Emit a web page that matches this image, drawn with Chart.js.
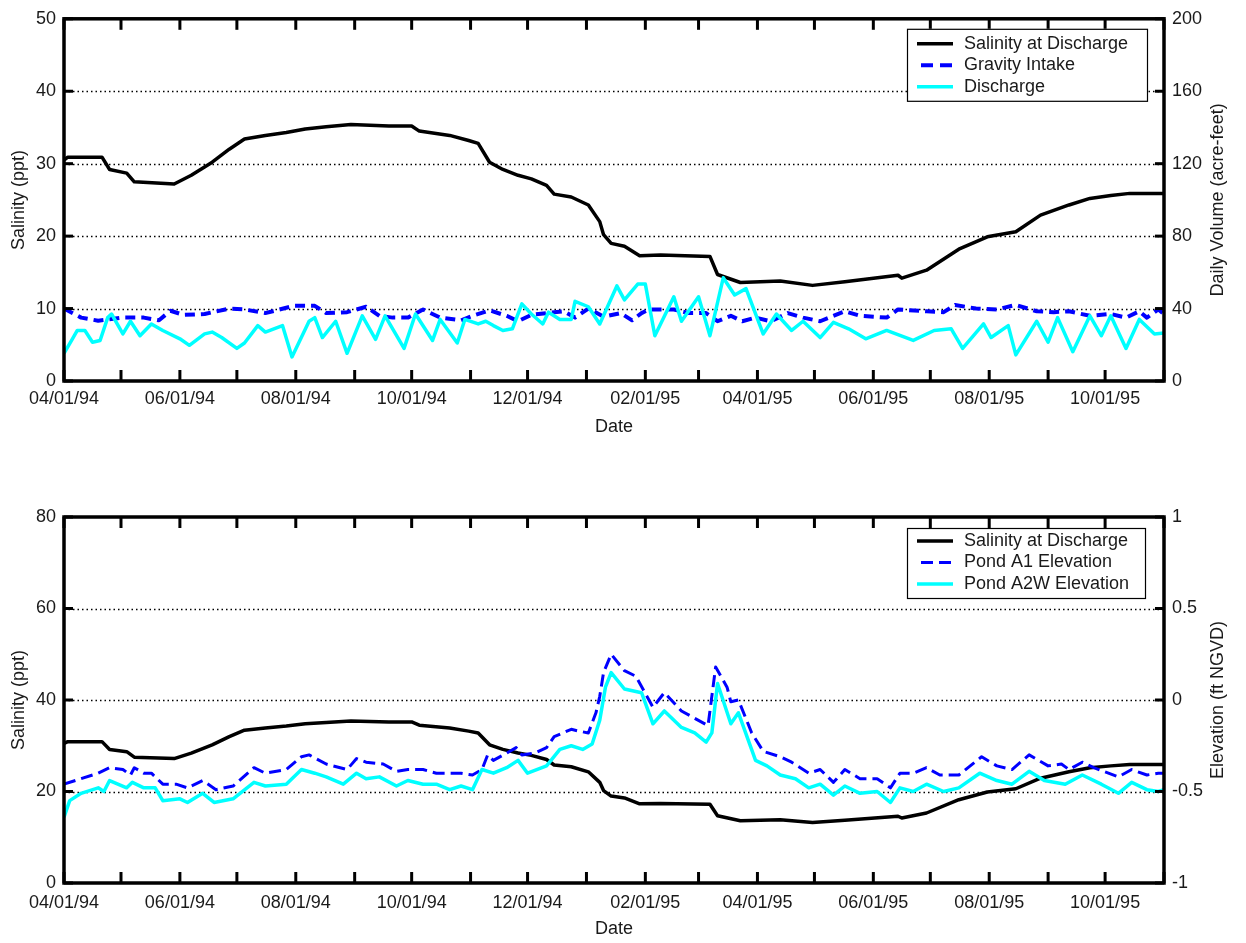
<!DOCTYPE html>
<html><head><meta charset="utf-8">
<script src="https://cdn.jsdelivr.net/npm/chart.js@4.4.1/dist/chart.umd.min.js"></script>
<style>
html,body{margin:0;padding:0;background:#fff;}
#wrap{position:relative;width:1246px;height:943px;background:#fff;}
canvas{position:absolute;left:0;}
#c1{top:0;} #c2{top:470px;}
</style></head><body>
<div id="wrap"><canvas id="c1" width="1246" height="470"></canvas><canvas id="c2" width="1246" height="473"></canvas></div>
<script>
// ---------- x axis (dates) ----------
const monthTicks = ['04/01/94','05/01/94','06/01/94','07/01/94','08/01/94','09/01/94','10/01/94','11/01/94','12/01/94','01/01/95','02/01/95','03/01/95','04/01/95','05/01/95','06/01/95','07/01/95','08/01/95','09/01/95','10/01/95','11/01/95'];
const xTickLabels = ['04/01/94','06/01/94','08/01/94','10/01/94','12/01/94','02/01/95','04/01/95','06/01/95','08/01/95','10/01/95'];
const xStart = '04/01/94', xEnd = '11/01/95';

// ---------- series (x = days after 04/01/94) ----------
const salinityDays = [0,2,20,24,33,37,58,67,78,87,95,106,117,127,138,151,171,183,187,203,213,218,224,231,239,246,254,258,267,276,282,284,288,295,303,314,340,344,356,377,394,411,439,441,454,471,486,501,514,529,540,551,561,579];
const salinityPpt = [30.5,30.9,30.9,29.2,28.7,27.5,27.2,28.4,30.2,32,33.4,33.9,34.3,34.8,35.1,35.4,35.2,35.2,34.5,33.9,33.2,32.8,30.2,29.2,28.4,27.9,27,25.8,25.4,24.3,22,20.2,19,18.6,17.3,17.4,17.2,14.7,13.6,13.8,13.2,13.7,14.6,14.2,15.3,18.2,19.9,20.6,22.9,24.3,25.2,25.6,25.9,25.9];

const intakeDays = [0,9,18,31,42,50,56,63,74,87,95,106,121,132,138,149,159,166,173,181,189,198,209,215,224,233,239,246,254,263,269,276,284,293,299,304,308,321,329,338,344,351,357,364,372,381,389,398,411,419,433,439,454,463,469,480,491,501,512,521,529,540,551,559,566,570,576,579];
const intakeAcreFt = [40,35,33.3,35,35,33.5,38.8,36.5,37,40,39.5,37.5,41.5,41.5,37.5,38,41,36,35,35,39.5,35,33.5,36,39,36,33,36.5,37.5,38.5,35,40,35.5,37.5,33.5,37.5,39.5,39.5,37.5,37.5,33,36,33,35,33,37.5,35,33,38.5,36,35,39.5,38.5,38,42,40,39.5,42,38.5,38,38.5,36,37,35,38.5,35,39.5,37];

const dischargeDays = [0,4,7,11,15,19,23,25,31,35,40,46,52,61,66,74,78,83,91,95,102,106,115,120,129,132,136,143,149,157,164,169,179,185,194,198,207,211,218,222,226,231,236,241,246,252,255,261,267,269,276,282,291,295,302,306,311,321,325,334,340,347,353,359,368,375,383,389,398,405,413,422,433,447,458,467,473,484,488,497,501,512,518,523,531,540,546,551,559,566,574,579];
const dischargeAcreFt = [15.3,22.4,27.9,27.9,21.4,22.4,35,37,26,33,25,31.5,27.9,23.3,19.7,26,27,24,18,21,30.6,27,30.6,13.3,33,35,24,33,15.3,36,23,36,18,37,22.4,34,21,34,31.5,33,30.6,27.9,28.8,42.6,37,31.5,38,34,34,44,41,31.5,52.5,44.8,53.5,53.5,25,46.5,33,46.5,25,57,47.5,51,26,37,27.9,33,24,32.4,28.8,23.3,27.9,22.4,27.9,28.8,18,31.5,24,30.6,14.4,33,21.4,35,16.2,36,25,36,18,34,26,26.5];

const pondA1Days = [0,9,18,24,31,35,37,42,46,52,59,65,73,80,89,100,106,117,125,129,138,149,154,159,168,175,181,189,196,203,209,215,220,223,226,233,238,241,248,254,258,267,271,276,280,282,284,288,295,301,310,316,325,332,339,343,349,351,355,362,368,377,383,392,398,405,411,419,428,435,440,447,454,461,471,483,491,499,508,518,525,529,536,542,555,562,570,576,579];
const pondA1Ft = [-0.46,-0.43,-0.40,-0.37,-0.38,-0.41,-0.37,-0.40,-0.40,-0.46,-0.46,-0.48,-0.44,-0.49,-0.47,-0.37,-0.40,-0.38,-0.31,-0.30,-0.35,-0.38,-0.32,-0.34,-0.35,-0.39,-0.38,-0.38,-0.40,-0.40,-0.40,-0.41,-0.38,-0.30,-0.33,-0.29,-0.26,-0.30,-0.29,-0.26,-0.20,-0.16,-0.17,-0.18,-0.07,0.02,0.15,0.25,0.16,0.13,-0.04,0.04,-0.06,-0.10,-0.14,0.18,0.07,-0.01,0.00,-0.18,-0.28,-0.31,-0.34,-0.40,-0.38,-0.45,-0.38,-0.43,-0.43,-0.48,-0.40,-0.40,-0.37,-0.41,-0.41,-0.31,-0.36,-0.38,-0.30,-0.36,-0.35,-0.38,-0.34,-0.37,-0.42,-0.38,-0.41,-0.40,-0.40];

const pondA2WDays = [0,3,9,18,21,24,33,36,42,48,52,61,65,73,79,89,100,106,117,125,132,138,147,154,159,166,175,181,189,196,203,209,215,220,226,233,239,244,254,261,267,273,278,282,285,288,295,304,310,316,325,332,338,341,344,351,355,364,370,377,385,392,398,405,411,419,428,435,440,447,454,463,471,482,491,499,508,516,527,536,546,555,562,570,576,579];
const pondA2WFt = [-0.64,-0.55,-0.51,-0.48,-0.50,-0.44,-0.48,-0.45,-0.48,-0.48,-0.55,-0.54,-0.56,-0.51,-0.56,-0.54,-0.45,-0.47,-0.46,-0.38,-0.40,-0.42,-0.46,-0.40,-0.43,-0.42,-0.47,-0.44,-0.46,-0.46,-0.49,-0.47,-0.49,-0.38,-0.40,-0.37,-0.33,-0.40,-0.36,-0.27,-0.25,-0.27,-0.24,-0.11,0.07,0.15,0.06,0.04,-0.13,-0.06,-0.15,-0.18,-0.23,-0.18,0.09,-0.13,-0.07,-0.33,-0.36,-0.41,-0.43,-0.48,-0.46,-0.52,-0.47,-0.51,-0.50,-0.56,-0.48,-0.50,-0.46,-0.50,-0.48,-0.40,-0.44,-0.46,-0.39,-0.44,-0.46,-0.41,-0.46,-0.51,-0.45,-0.49,-0.50,-0.49];

// ---------- helpers ----------
function dateMs(s){ const [m,d,y]=s.split('/').map(Number); return Date.UTC(1900+y, m-1, d); }
const T0 = dateMs(xStart);
function dayOf(s){ return Math.round((dateMs(s)-T0)/86400000); }
function pts(xs, ys){ return xs.map((x,i)=>({x:x, y:ys[i]})); }
const tickDayMap = {}; monthTicks.forEach(s=>{ tickDayMap[dayOf(s)] = s; });

const FAM = "'Liberation Sans', Arial, Helvetica, sans-serif";
const FONT = {family: FAM, size: 18};
const TXT = '#1a1a1a';

const decor = {
  id: 'decor',
  beforeDatasetsDraw(chart){
    const {ctx, chartArea: a, scales} = chart;
    const y = scales.y;
    ctx.save();
    ctx.strokeStyle = '#000'; ctx.lineWidth = 1.5; ctx.setLineDash([1.5, 3]);
    y.ticks.forEach(t => {
      if (t.value === y.min || t.value === y.max) return;
      const py = Math.round(y.getPixelForValue(t.value)) + 0.5;
      ctx.beginPath(); ctx.moveTo(a.left, py); ctx.lineTo(a.right, py); ctx.stroke();
    });
    ctx.restore();
  },
  afterDatasetsDraw(chart, args, opts){
    const {ctx, chartArea: a, scales} = chart;
    ctx.save();
    ctx.strokeStyle = '#000'; ctx.setLineDash([]);
    // inward tick marks
    ctx.lineWidth = 3;
    scales.x.ticks.forEach(t => {
      const px = scales.x.getPixelForValue(t.value);
      ctx.beginPath(); ctx.moveTo(px, a.top); ctx.lineTo(px, a.top + 11); ctx.stroke();
      ctx.beginPath(); ctx.moveTo(px, a.bottom); ctx.lineTo(px, a.bottom - 11); ctx.stroke();
    });
    scales.y.ticks.forEach(t => {
      const py = scales.y.getPixelForValue(t.value);
      ctx.beginPath(); ctx.moveTo(a.left, py); ctx.lineTo(a.left + 9, py); ctx.stroke();
    });
    scales.y2.ticks.forEach(t => {
      const py = scales.y2.getPixelForValue(t.value);
      ctx.beginPath(); ctx.moveTo(a.right, py); ctx.lineTo(a.right - 9, py); ctx.stroke();
    });
    // frame
    ctx.lineWidth = 3.5;
    ctx.strokeRect(a.left, a.top, a.right - a.left, a.bottom - a.top);
    // right axis title (reads bottom-to-top)
    ctx.save();
    ctx.translate(a.right + opts.rightTitleOffset, (a.top + a.bottom) / 2);
    ctx.rotate(-Math.PI / 2);
    ctx.fillStyle = TXT; ctx.font = '18px ' + FAM;
    ctx.textAlign = 'center'; ctx.textBaseline = 'middle';
    ctx.fillText(opts.rightTitle, 0, 0);
    ctx.restore();
    // legend box
    const L = opts.legend;
    const bx = a.right - L.right - L.width, by = a.top + L.top;
    ctx.fillStyle = '#fff';
    ctx.fillRect(bx, by, L.width, L.height);
    ctx.lineWidth = 1.2; ctx.strokeStyle = '#000';
    ctx.strokeRect(bx + 0.5, by + 0.5, L.width, L.height);
    ctx.font = '18px ' + FAM; ctx.textBaseline = 'middle'; ctx.textAlign = 'left';
    chart.data.datasets.forEach((ds, i) => {
      const ry = by + L.first + i * L.row;
      ctx.save();
      ctx.strokeStyle = ds.borderColor; ctx.lineWidth = ds.borderWidth;
      if (ds.borderDash && ds.borderDash.length) {
        ctx.setLineDash(L.dash);
        ctx.beginPath(); ctx.moveTo(bx + 14, ry); ctx.lineTo(bx + 46, ry); ctx.stroke();
      } else {
        ctx.beginPath(); ctx.moveTo(bx + 10, ry); ctx.lineTo(bx + 46, ry); ctx.stroke();
      }
      ctx.restore();
      ctx.fillStyle = TXT;
      ctx.fillText(ds.label, bx + 57, ry);
    });
    ctx.restore();
  }
};

function xScale(tickPad, height, titlePadBottom){
  return {
    type: 'linear', position: 'bottom', min: 0, max: dayOf(xEnd),
    afterBuildTicks: s => { s.ticks = monthTicks.map(d => ({value: dayOf(d)})); },
    ticks: { autoSkip: false, maxRotation: 0, minRotation: 0, padding: tickPad, font: FONT, color: TXT,
      callback: v => { const s = tickDayMap[v]; return (s && xTickLabels.includes(s)) ? s : ''; } },
    grid: { display: false, drawTicks: false }, border: { display: false },
    title: { display: true, text: 'Date', font: FONT, color: TXT, padding: {top: 0, bottom: titlePadBottom} },
    afterFit: s => { s.height = height; }
  };
}
function yScale(pos, min, max, step, title, width){
  const o = {
    type: 'linear', position: pos, min: min, max: max,
    ticks: { stepSize: step, padding: 8, font: FONT, color: TXT, callback: v => String(v) },
    grid: { display: false, drawTicks: false }, border: { display: false },
    afterFit: s => { s.width = width; }
  };
  if (title) o.title = { display: true, text: title, font: FONT, color: TXT, padding: {top: 8, bottom: 0} };
  return o;
}

const common = { responsive: false, animation: false, devicePixelRatio: 1,
  plugins: { legend: {display: false}, tooltip: {enabled: false} },
  elements: { point: { radius: 0 }, line: { tension: 0, borderCapStyle: 'butt', borderJoinStyle: 'round' } } };

new Chart(document.getElementById('c1'), {
  type: 'line',
  data: { datasets: [
    { label: 'Salinity at Discharge', data: pts(salinityDays, salinityPpt), yAxisID: 'y', borderColor: '#000000', borderWidth: 3.5, order: 3 },
    { label: 'Gravity Intake', data: pts(intakeDays, intakeAcreFt), yAxisID: 'y2', borderColor: '#0000FF', borderWidth: 4, borderDash: [10, 6], order: 2 },
    { label: 'Discharge', data: pts(dischargeDays, dischargeAcreFt), yAxisID: 'y2', borderColor: '#00FFFF', borderWidth: 3.5, order: 1 }
  ]},
  options: Object.assign({}, common, {
    layout: { padding: { top: 15, left: 0, right: 0, bottom: 0 } },
    scales: {
      x: xScale(7, 89, 32),
      y: yScale('left', 0, 50, 10, 'Salinity (ppt)', 64),
      y2: yScale('right', 0, 200, 40, null, 82)
    },
    plugins: Object.assign({}, common.plugins, {
      decor: { rightTitle: 'Daily Volume (acre-feet)', rightTitleOffset: 54,
        legend: { right: 17, top: 10, width: 240, height: 72, first: 15, row: 21.5, dash: [12, 7] } }
    })
  }),
  plugins: [decor]
});

new Chart(document.getElementById('c2'), {
  type: 'line',
  data: { datasets: [
    { label: 'Salinity at Discharge', data: pts(salinityDays, salinityPpt), yAxisID: 'y', borderColor: '#000000', borderWidth: 3.5, order: 3 },
    { label: 'Pond A1 Elevation', data: pts(pondA1Days, pondA1Ft), yAxisID: 'y2', borderColor: '#0000FF', borderWidth: 3, borderDash: [12, 6], order: 2 },
    { label: 'Pond A2W Elevation', data: pts(pondA2WDays, pondA2WFt), yAxisID: 'y2', borderColor: '#00FFFF', borderWidth: 3.5, order: 1 }
  ]},
  options: Object.assign({}, common, {
    layout: { padding: { top: 47, left: 0, right: 0, bottom: 0 } },
    scales: {
      x: xScale(9, 60, 3),
      y: yScale('left', 0, 80, 20, 'Salinity (ppt)', 64),
      y2: yScale('right', -1, 1, 0.5, null, 82)
    },
    plugins: Object.assign({}, common.plugins, {
      decor: { rightTitle: 'Elevation (ft NGVD)', rightTitleOffset: 54,
        legend: { right: 19, top: 11, width: 238, height: 70, first: 13, row: 21.5, dash: [12, 6] } }
    })
  }),
  plugins: [decor]
});
</script>
</body></html>
